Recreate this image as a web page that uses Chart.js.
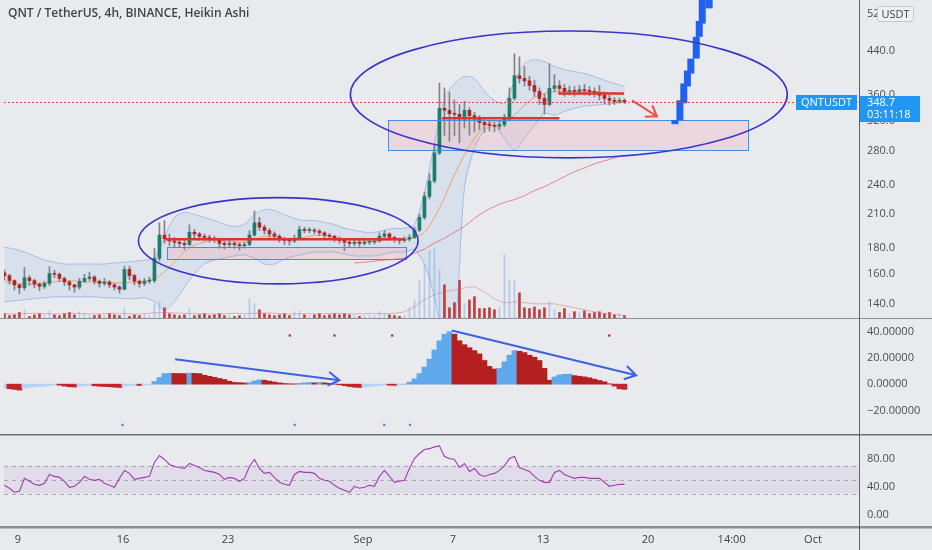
<!DOCTYPE html>
<html><head><meta charset="utf-8">
<script src="https://cdn.jsdelivr.net/npm/chart.js@4.4.1/dist/chart.umd.min.js"></script>
<style>html,body{margin:0;padding:0;background:#e9eaee;}#wrap{width:932px;height:550px;}canvas{display:block}</style>
</head><body><div id="wrap"><canvas id="c" width="932" height="550"></canvas></div>
<script>
// ---------- DATA (days counted from Aug 1) ----------
const candleStart = 7.1, candleStep = 1 / 3;   // 4h chart, sampled every 8h
const open = [161,159,155.5,152.5,150.5,157.5,155.5,153,151.5,153.5,160.5,160,157,154.5,152.5,151,155,157,158,155,153.5,154.5,152.5,151,149.5,163.5,159,155,153.5,155,155.5,172,191,188,186,185,184,183,193.5,192,190,189,188,187.5,184,183,184,183,182,183,191,202,198,195,192,190,187.5,186.5,186,188,196,195,195,194.5,193,191,190,188,186.5,185,184,185,184,185,185,186,190,192,189,187.5,186.5,187.5,189,195.5,207,227.5,244,277,339,336,331,330,323,336,328,323,318,315,314,312.5,315,323,355,393,388,384,376,366,354.6,345,371,375.5,371,366,367.5,366,369,367.5,366,364.5,359.5,354.6,351.5,350,351.5];
const close = [159,155.5,152.5,150.5,157.5,155.5,153,151.5,153.5,160.5,160,157,154.5,152.5,151,155,157,158,155,153.5,154.5,152.5,151,149.5,163.5,159,155,153.5,155,155.5,172,191,188,186,185,184,183,193.5,192,190,189,188,187.5,184,183,184,183,182,183,191,202,198,195,192,190,187.5,186.5,186,188,196,195,195,194.5,193,191,190,188,186.5,185,184,185,184,185,185,186,190,192,189,187.5,186.5,187.5,189,195.5,207,227.5,244,277,339,336,331,330,323,336,328,323,318,315,314,312.5,315,323,355,393,388,384,376,366,354.6,345,371,375.5,371,366,367.5,366,369,367.5,366,364.5,359.5,354.6,351.5,350,351.5,349];
const high = [163,160,156,153,165,159,156.5,154,155,165.5,163,161,158,155.5,153,157,160,161.5,159,156,157,155.5,153.5,152,166,166,160,156,157,158,180,202,204,192,189,188,186.5,200,196,193.5,192,191,190,188.5,186,186.5,185.5,184.5,185,195,213,207,200,197,194,191.5,189,188.5,191,199,198,197.5,197,196,194,192.5,191,189.5,187.5,186.5,187,186.5,187,187.5,188,193,195,193,190,188.5,189.5,191.5,198,210,232,252,288,380,372,365,352,345,350,340,333,328,324,320,318,320,330,372,434,428,410,392,385,372,362,415,395,384,378,375,374,376,378,374,372,376,365,360,356,355,354];
const low = [156,153,149,146.5,149,152,150.5,148.5,150,152,157.5,155,152,149,147.5,149.5,154,155.5,153,151,152,150.5,149,147,149,156,152.5,151,152,153.5,154,170,184,182,181,180.5,179,182,188,186.5,186,185,184.5,180,179.5,181,180,178.5,180,182,190,195,192,189,187,185,183,182.5,184.5,187,193,193,192,190.5,188.5,187.5,185.5,184,178,181,182,181.5,182.5,183,183.5,185,188,186.5,185,183.5,185,186,188,194,205,225,242,275,300,292,300,290,310,300,305,308,304,306,305,308,312,320,352,380,375,368,358,345,330,343,365,362,358,360,358,361,360,359,357,352,346,344,345,347,346];
const volume = [15,10,12,18,25,8,12,15,10,22,12,10,15,18,12,20,15,10,10,12,10,15,12,10,30,8,12,10,15,10,40,45,30,15,12,10,12,28,10,12,15,10,12,15,10,12,8,10,12,53,40,25,15,12,10,12,15,10,20,22,12,10,12,15,10,12,15,12,15,12,10,8,10,12,10,20,15,12,10,8,10,30,50,100,140,175,180,125,88,30,43,100,40,50,58,28,28,30,25,30,165,100,100,68,30,28,32,25,30,45,25,18,28,15,20,18,22,15,18,20,15,18,12,15,10];
const macdHist = [-3,-3.5,-4,-4.5,-3,-2.5,-2,-1.8,-1.5,-1,-0.5,-0.8,-1.5,-2,-2.2,-1.8,-1.2,-1,-1.3,-1.6,-1.8,-2,-2.3,-2.5,-1.5,-1,-0.8,-1,-0.8,-0.3,2,5,8,8.3,8.2,8.1,8,8.4,8.2,8,6.8,6,5.2,4.3,3.5,2.2,1.3,1.1,0.9,1.2,2.4,3.2,3,2.3,1.6,1,0.5,0.3,0.2,0.6,1,1.2,1,1.3,1,0.6,0.2,-0.5,-1.2,-1.8,-2.3,-2.5,-2.2,-1.8,-1.4,-1,-0.6,-0.8,-0.9,-0.5,0,1.5,4,8,13,19,26,33,38,40,38,33,30,27.7,25.5,23,18,13.5,11.5,12,17,22,25.5,25,24,22,20.5,18,12,3,5.5,7,7.5,7.6,6.5,6,5.5,4.8,3.8,2.8,1.8,0.3,-1.5,-3.5,-4];
const rsi = [41.8,37.6,31.9,33.3,51.7,47.5,43.2,41.8,44.6,57.3,54.5,53.1,47.5,39,40.4,46,54.5,50.3,48.9,50.3,44.6,41.8,39,51.7,63,58.8,50.3,51.7,53.1,54.5,74.3,84.2,78.6,71.5,68.7,67.2,65.8,72.9,70.1,67.2,63,61.6,60.2,57.3,50.3,53.1,51.7,47.5,51.7,68.7,78.6,65.8,58.8,60.2,53.1,46,43.2,41.8,57.3,61.6,60.2,60.2,58.8,51.7,48.9,47.5,41.8,37.6,34.7,31.9,40.4,37.6,39,41.8,40.4,54.5,63,54.5,46,47.5,48.9,65.8,80,87.1,92.7,94,96.5,98,82.8,80,78.6,67.2,72.9,61.6,65.8,57.3,54.5,57.3,58.8,63,69.4,80,82.8,67.2,64.4,61.6,54.5,48.9,46,46,60.2,63,57.3,54.5,51.7,53.1,53.1,51.7,51.7,51.7,46,40.4,41.8,43.2,43.2];

const bandStart = 7.1, bandStep = 2 / 3;
const bbUpper = [180.9,179.3,176.9,173.8,170.6,169,167.6,167.6,167.6,167.6,167.6,168.4,169,169.8,170.6,172.2,189.1,206.9,211.6,209.7,206.9,204.1,200.5,198.7,200.5,209.7,214.5,213.5,209.7,206,204.1,204.1,202.3,200.5,197,195.3,193.5,193.5,195.3,197,197,200.5,231.5,289.8,354.6,379.4,391.5,388,366,351.5,346.8,383,415,422.5,418.7,409.6,404,400.4,396.8,391.5,384.7,379.4,374.3];
const bbLower = [141.3,141.9,142.5,143.2,143.8,144.5,144.5,144.5,144.5,144.5,143.8,143.8,143.2,143.2,143.8,141.3,135.9,141.3,151,160.3,167.6,170.6,172.2,173.8,174.6,172.2,167.6,167.6,171.3,173.8,175.3,176.9,176.9,176.9,175.3,173.8,173.8,173.8,175.3,176.9,176.9,178.5,167.6,144.5,118,123.5,236.7,283.3,307.1,313.8,295.9,280.7,295.9,313.8,331.5,328.5,334.5,339,342.2,343.7,345.2,346.8,349.9];
const bbBasis = [154.6,153.9,153.2,153.2,153.9,154.6,155.3,155.3,154.6,154.6,154.6,153.9,153.9,154.6,155.3,156.7,161.7,169,176.9,182.5,185,186.7,185.8,185,185,187.5,190,190,188.3,188.3,189.1,190.8,190.8,189.1,187.5,186.7,185.8,185.8,186.7,187.5,187.5,189.1,193.5,206.9,226.3,251,274.6,295.9,312.8,319.7,319.7,328.6,343.7,356.3,362.7,366,366,366,366,366,364.3,362.7,361.1];
const maSlowFrom = 35;
const maSlow = [168.4,169,169.8,170.6,171.3,172.2,176,179.3,184.2,188.3,193.5,198.7,206,212.6,217.4,221.4,224.3,228.4,233.6,237.8,243.2,248.8,254.4,259,263.7,267.3,270.9,274.6];
const volMA = [15,14,15,16,15,14,15,16,15,14,15,16,15,14,15,17,18,17,16,15,15,14,15,16,15,16,17,16,15,14,15,14,15,16,15,14,15,16,15,16,20,33,50,63,70,75,80,83,70,53,43,45,43,40,40,40,35,30,25,20,15,13,10];

const macdUpDotDays = [26.12,29.1,32.95,47.42], macdUpDotValue = 37;
const macdDownDotDays = [14.97,26.45,32.42,34.14], macdDownDotValue = -31;

const xMin = 7.071, xMax = 64.07;
const xTickDays = [8,15,22,31,37,43,50,55.58,61];
const xTickLabels = ['9','16','23','Sep','7','13','20','14:00','Oct'];
const priceTicks = [140,160,180,210,240,280,320,360,440,520];
const macdTicks = [40,20,0,-20];
const rsiTicks = [80,40,0];
const rsiLevels = [70,50,30];
const lastPrice = 348.7, countdown = '03:11:18', symbol = 'QNTUSDT';
const title = 'QNT / TetherUS, 4h, BINANCE, Heikin Ashi';

// drawings (time in days, price in USDT)
const ellipses = [{d0:16.03,d1:34.68,pLow:153.2,pHigh:226.3},{d0:30.16,d1:59.29,pLow:270.9,pHigh:481}];
const zones = [{d0:17.95,d1:33.88,pLow:171.3,pHigh:180.9},{d0:32.68,d1:56.64,pLow:280.7,pHigh:321.3}];
const levels = [{d0:17.82,d1:33.75,p:187.5},{d0:36.27,d1:44.1,p:324},{d0:44.03,d1:48.41,p:362.7}];
const redArrow = {d0:48.94,p0:351.5,d1:50.6,p1:327};
const macdArrows = [{d0:18.48,v0:18.9,d1:29.43,v1:3.0},{d0:36.93,v0:40.8,d1:49.21,v1:6.8}];
const projDays = [51.80,52.13,52.39,52.63,52.86,53.22,53.42,53.62,54.08];
const projLow  = [315.6,321.3,346.8,374.3,396.8,424.6,468.5,497.5,533];
const projHigh = [321.3,351.5,379.4,402.2,424.6,468.5,503.4,560,560];

// ---------- BUILD ----------
const FONT = '"Open Sans", "DejaVu Sans", sans-serif';
const MAIN_BOTTOM = 318, MACD_TOP = 319, MACD_BOTTOM = 434, RSI_TOP = 435, AXIS_X = 867;
const candleDays = close.map((_, i) => candleStart + i * candleStep);
const bandDays = bbUpper.map((_, k) => bandStart + k * bandStep);
const pts = (days, vals) => vals.map((v, i) => ({x: days[i], y: v}));
const isUp = close.map((c, i) => c >= open[i]);
const bodyColors = isUp.map(u => u ? '#1f7c68' : '#b3231f');
const histColors = macdHist.map((v, i) => {
  const p = i ? macdHist[i - 1] : v;
  if (v >= 0) return v >= p ? '#5fa9ec' : '#b3201f';
  return v >= p ? '#b5d2f2' : '#c0262c';
});
const clipMain = {left:0, top:0, right:0, bottom:-(528 - MAIN_BOTTOM)};
const clipMacd = {left:0, top:-MACD_TOP, right:0, bottom:-(528 - MACD_BOTTOM)};
const clipRsi = {left:0, top:-RSI_TOP, right:0, bottom:0};

function arrow(ctx, x0, y0, x1, y1, len, ang) {
  ctx.beginPath(); ctx.moveTo(x0, y0); ctx.lineTo(x1, y1);
  const a = Math.atan2(y1 - y0, x1 - x0);
  ctx.moveTo(x1 - len * Math.cos(a - ang), y1 - len * Math.sin(a - ang));
  ctx.lineTo(x1, y1);
  ctx.lineTo(x1 - len * Math.cos(a + ang), y1 - len * Math.sin(a + ang));
  ctx.stroke();
}

const overlay = {
  id: 'overlay',
  beforeDraw(chart) {
    const {ctx, width, height} = chart;
    ctx.save(); ctx.fillStyle = '#e9eaee'; ctx.fillRect(0, 0, width, height); ctx.restore();
  },
  beforeDatasetsDraw(chart) {
    const {ctx, chartArea: a, scales: {x, y, yr}} = chart;
    ctx.save();
    ctx.beginPath(); ctx.rect(a.left, 0, a.right - a.left, MAIN_BOTTOM); ctx.clip();
    ctx.beginPath();
    bandDays.forEach((d, k) => { const px = x.getPixelForValue(d), py = y.getPixelForValue(bbUpper[k]); k ? ctx.lineTo(px, py) : ctx.moveTo(px, py); });
    for (let k = bandDays.length - 1; k >= 0; k--) ctx.lineTo(x.getPixelForValue(bandDays[k]), y.getPixelForValue(bbLower[k]));
    ctx.closePath(); ctx.fillStyle = 'rgba(80,145,230,0.11)'; ctx.fill();
    zones.forEach(z => {
      const x0 = x.getPixelForValue(z.d0), x1 = x.getPixelForValue(z.d1);
      const y0 = y.getPixelForValue(z.pHigh), y1 = y.getPixelForValue(z.pLow);
      ctx.fillStyle = 'rgba(240,190,200,0.45)'; ctx.fillRect(x0, y0, x1 - x0, y1 - y0);
    });
    ctx.restore();
    const r0 = yr.getPixelForValue(rsiLevels[0]), r2 = yr.getPixelForValue(rsiLevels[2]);
    ctx.save();
    ctx.fillStyle = 'rgba(150,100,205,0.10)'; ctx.fillRect(a.left, r0, a.right - a.left, r2 - r0);
    ctx.strokeStyle = '#a6a8b0'; ctx.setLineDash([4, 4]); ctx.lineWidth = 1;
    rsiLevels.forEach(v => { const py = Math.round(yr.getPixelForValue(v)) + 0.5; ctx.beginPath(); ctx.moveTo(a.left, py); ctx.lineTo(a.right, py); ctx.stroke(); });
    ctx.restore();
  },
  afterDatasetsDraw(chart) {
    const {ctx, chartArea: a, scales: {x, y, ym}} = chart;
    ctx.save();
    ctx.beginPath(); ctx.rect(a.left, 0, a.right - a.left, MAIN_BOTTOM); ctx.clip();
    ctx.strokeStyle = '#3f8fe6'; ctx.lineWidth = 1;
    zones.forEach(z => {
      const x0 = Math.round(x.getPixelForValue(z.d0)) + 0.5, x1 = Math.round(x.getPixelForValue(z.d1)) + 0.5;
      const y0 = Math.round(y.getPixelForValue(z.pHigh)) + 0.5, y1 = Math.round(y.getPixelForValue(z.pLow)) + 0.5;
      ctx.strokeRect(x0, y0, x1 - x0, y1 - y0);
    });
    ctx.strokeStyle = '#e2332b'; ctx.lineWidth = 2.5;
    levels.forEach(l => { const py = y.getPixelForValue(l.p); ctx.beginPath(); ctx.moveTo(x.getPixelForValue(l.d0), py); ctx.lineTo(x.getPixelForValue(l.d1), py); ctx.stroke(); });
    ctx.strokeStyle = '#f0504a'; ctx.lineWidth = 2;
    arrow(ctx, x.getPixelForValue(redArrow.d0), y.getPixelForValue(redArrow.p0), x.getPixelForValue(redArrow.d1), y.getPixelForValue(redArrow.p1), 12, 0.6);
    ctx.fillStyle = '#1f62ef';
    projDays.forEach((d, i) => {
      const px = x.getPixelForValue(d), t = y.getPixelForValue(projHigh[i]), b = y.getPixelForValue(projLow[i]);
      ctx.fillRect(px - 3.5, t, 7, b - t);
    });
    ctx.strokeStyle = '#3a35c9'; ctx.lineWidth = 1.6;
    ellipses.forEach(e => {
      const x0 = x.getPixelForValue(e.d0), x1 = x.getPixelForValue(e.d1);
      const y0 = y.getPixelForValue(e.pHigh), y1 = y.getPixelForValue(e.pLow);
      ctx.beginPath(); ctx.ellipse((x0 + x1) / 2, (y0 + y1) / 2, (x1 - x0) / 2, (y1 - y0) / 2, 0, 0, Math.PI * 2); ctx.stroke();
    });
    const lp = Math.round(y.getPixelForValue(lastPrice)) + 0.5;
    ctx.strokeStyle = '#e0443c'; ctx.lineWidth = 1; ctx.setLineDash([2, 2]);
    ctx.beginPath(); ctx.moveTo(a.left, lp); ctx.lineTo(a.right, lp); ctx.stroke();
    ctx.restore();
    ctx.save();
    ctx.beginPath(); ctx.rect(a.left, MACD_TOP, a.right - a.left, MACD_BOTTOM - MACD_TOP); ctx.clip();
    ctx.strokeStyle = '#3c62e4'; ctx.lineWidth = 2;
    macdArrows.forEach(m => arrow(ctx, x.getPixelForValue(m.d0), ym.getPixelForValue(m.v0), x.getPixelForValue(m.d1), ym.getPixelForValue(m.v1), 13, 0.55));
    ctx.restore();
    ctx.save();
    ctx.fillStyle = '#8e9097'; ctx.fillRect(0, MAIN_BOTTOM, 932, 1);
    ctx.fillStyle = '#6f7178'; ctx.fillRect(0, MACD_BOTTOM, 932, 1.5);
    ctx.fillStyle = '#8d8f96'; ctx.fillRect(0, 526, 932, 2.5);
    ctx.fillStyle = '#5e6168'; ctx.fillRect(a.right, 0, 1, 550);
    ctx.restore();
  },
  afterDraw(chart) {
    const {ctx, scales: {y, ym, yr}} = chart;
    ctx.save();
    ctx.textBaseline = 'middle'; ctx.textAlign = 'left';
    ctx.font = '11px ' + FONT; ctx.fillStyle = '#4b4e56';
    priceTicks.forEach(v => ctx.fillText(v.toFixed(1), AXIS_X, y.getPixelForValue(v)));
    macdTicks.forEach(v => ctx.fillText((v < 0 ? '\u2212' : '') + Math.abs(v).toFixed(5), AXIS_X, ym.getPixelForValue(v)));
    rsiTicks.forEach(v => ctx.fillText(v.toFixed(2), AXIS_X, yr.getPixelForValue(v)));
    ctx.font = '600 12px ' + FONT; ctx.fillStyle = '#40434b';
    ctx.fillText(title, 8, 14);
    const lp = Math.round(y.getPixelForValue(lastPrice));
    ctx.fillStyle = '#2196f3';
    ctx.fillRect(796, lp - 7, 61, 15);
    ctx.fillRect(860, lp - 6, 60, 26);
    ctx.fillStyle = '#ffffff'; ctx.font = '11px ' + FONT;
    ctx.textAlign = 'center'; ctx.fillText(symbol, 826.5, lp + 0.5);
    ctx.textAlign = 'left';
    ctx.fillText(lastPrice.toFixed(1), AXIS_X, lp + 0.5);
    ctx.fillText(countdown, AXIS_X, lp + 13);
    ctx.fillStyle = '#eef0f3'; ctx.strokeStyle = '#c6c8ce'; ctx.lineWidth = 1;
    ctx.beginPath(); ctx.roundRect(877.5, 6.5, 36, 15, 3); ctx.fill(); ctx.stroke();
    ctx.fillStyle = '#3c3f47'; ctx.textAlign = 'center'; ctx.fillText('USDT', 895.5, 14.5);
    ctx.restore();
  }
};

const datasets = [
  {type:'bar', label:'volUp', yAxisID:'yv', data: candleDays.map((d, i) => ({x:d, y: isUp[i] ? volume[i] : null})), backgroundColor:'rgba(110,165,230,0.45)', barThickness:1, grouped:false, order:21, clip:clipMain},
  {type:'bar', label:'volDown', yAxisID:'yv', data: candleDays.map((d, i) => ({x:d, y: isUp[i] ? null : volume[i]})), backgroundColor:'rgba(185,30,30,0.85)', barThickness:2, grouped:false, order:20, clip:clipMain},
  {type:'line', label:'volma', yAxisID:'yv', data: pts(bandDays, volMA), borderColor:'rgba(225,110,130,0.5)', borderWidth:1, pointRadius:0, tension:0.3, order:19, clip:clipMain},
  {type:'line', label:'bbu', yAxisID:'y', data: pts(bandDays, bbUpper), borderColor:'rgba(95,140,225,0.45)', borderWidth:1, pointRadius:0, tension:0.3, order:18, clip:clipMain},
  {type:'line', label:'bbl', yAxisID:'y', data: pts(bandDays, bbLower), borderColor:'rgba(95,140,225,0.45)', borderWidth:1, pointRadius:0, tension:0.3, order:17, clip:clipMain},
  {type:'line', label:'slow', yAxisID:'y', data: pts(bandDays.slice(maSlowFrom), maSlow), borderColor:'rgba(228,85,105,0.7)', borderWidth:1, pointRadius:0, tension:0.3, order:16, clip:clipMain},
  {type:'line', label:'basis', yAxisID:'y', data: pts(bandDays, bbBasis), borderColor:'rgba(242,150,80,0.85)', borderWidth:1, pointRadius:0, tension:0.3, order:15, clip:clipMain},
  {type:'bar', label:'wick', yAxisID:'y', data: candleDays.map((d, i) => ({x:d, y:[low[i], high[i]]})), backgroundColor:'#80828a', barThickness:1, grouped:false, order:14, clip:clipMain},
  {type:'bar', label:'body', yAxisID:'y', data: candleDays.map((d, i) => ({x:d, y:[open[i], close[i]]})), backgroundColor: bodyColors, barThickness:3, minBarLength:1, grouped:false, order:13, clip:clipMain},
  {type:'bar', label:'hist', yAxisID:'ym', data: pts(candleDays, macdHist), backgroundColor: histColors, barThickness:5.1, grouped:false, order:11, clip:clipMacd},
  {type:'line', label:'dotU', yAxisID:'ym', data: macdUpDotDays.map(d => ({x:d, y:macdUpDotValue})), showLine:false, pointStyle:'rect', pointRadius:1.6, pointBackgroundColor:'#c0262c', pointBorderWidth:0, order:10, clip:clipMacd},
  {type:'line', label:'dotD', yAxisID:'ym', data: macdDownDotDays.map(d => ({x:d, y:macdDownDotValue})), showLine:false, pointStyle:'rect', pointRadius:1.6, pointBackgroundColor:'#3d8de8', pointBorderWidth:0, order:9, clip:clipMacd},
  {type:'line', label:'rsi', yAxisID:'yr', data: pts(candleDays, rsi), borderColor:'#a13cae', borderWidth:1.1, pointRadius:0, tension:0, order:1, clip:clipRsi}
];

new Chart(document.getElementById('c'), {
  type: 'bar',
  data: {datasets},
  options: {
    responsive:false, animation:false, devicePixelRatio:1,
    layout:{padding:{left:0, top:0, bottom:0, right:73}},
    plugins:{legend:{display:false}, tooltip:{enabled:false}},
    scales:{
      x:{type:'linear', min:xMin, max:xMax, offset:false, position:'bottom',
        grid:{display:false, drawTicks:false}, border:{display:false},
        afterBuildTicks: ax => { ax.ticks = xTickDays.map(v => ({value:v})); },
        afterFit: ax => { ax.height = 22; },
        ticks:{autoSkip:false, maxRotation:0, padding:5, color:'#3e4149', font:{family:FONT, size:11}, callback:(v, i) => xTickLabels[i]}},
      y:{type:'logarithmic', display:false, min:50.75, max:543.6},
      yv:{type:'linear', display:false, min:-528.3, max:800},
      ym:{type:'linear', display:false, min:-109.4, max:289.1},
      yr:{type:'linear', display:false, min:-19, max:727.3}
    }
  },
  plugins:[overlay]
});
</script></body></html>
